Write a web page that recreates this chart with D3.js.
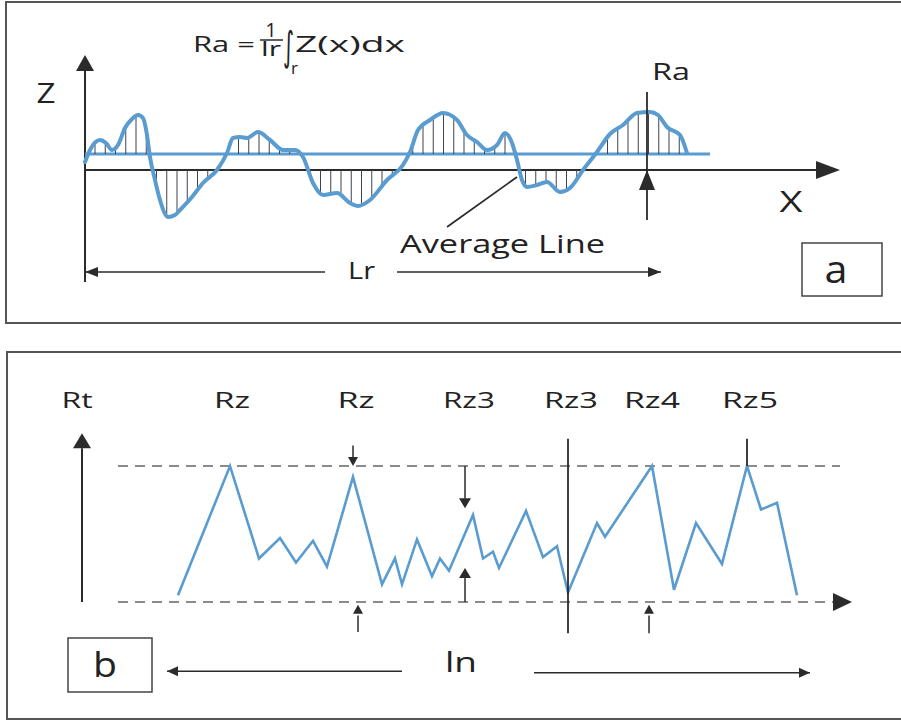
<!DOCTYPE html>
<html>
<head>
<meta charset="utf-8">
<script src="https://cdn.jsdelivr.net/npm/d3@7"></script>
<style>
  body { margin: 0; background: #fff; }
  svg { display: block; }
  text { font-family: "Open Sans", sans-serif; fill: #222; }
</style>
</head>
<body>
<svg id="chart" width="901" height="722"></svg>
<script>
// Panel a: surface profile (distance along, height above the X axis)
const profileAX = [0, 5, 15, 21, 27, 33, 40, 47, 53, 58, 62, 65, 70, 75, 83, 90, 95, 107, 118, 132, 142, 148, 155, 162, 173, 185, 198, 210, 218, 228, 238, 252, 265, 273, 285, 302, 318, 325, 333, 345, 358, 372, 382, 392, 402, 412, 420, 427, 432, 437, 442, 452, 462, 475, 485, 498, 512, 525, 538, 552, 565, 573, 582, 595, 602];
const profileAZ = [8, 20, 30, 27, 20, 25, 42, 51, 55, 52, 35, 13, -10, -30, -47, -45, -40, -27, -13, 0, 17, 32, 33, 32, 38, 30, 20, 20, 13, -13, -25, -23, -33, -36, -30, -10, 5, 18, 40, 50, 57, 50, 35, 28, 20, 25, 37, 27, 10, -10, -17, -15, -12, -22, -18, 0, 18, 36, 45, 57, 58, 55, 43, 35, 17];
const meanLineZ = 16;

// Panel b: peak/valley profile (distance along, height as share of Rt)
const profileBX = [96, 148, 177, 198, 214, 231, 245, 271, 300, 313, 320, 335, 350, 358, 367, 391, 401, 411, 417, 444, 461, 475, 486, 515, 523, 570, 592, 614, 640, 665, 679, 695, 715];
const profileBH = [0.05, 1.0, 0.32, 0.47, 0.29, 0.45, 0.26, 0.92, 0.13, 0.32, 0.13, 0.46, 0.19, 0.32, 0.23, 0.64, 0.32, 0.37, 0.25, 0.67, 0.33, 0.41, 0.07, 0.58, 0.48, 1.0, 0.09, 0.58, 0.28, 1.0, 0.68, 0.73, 0.05];
const peakLabels = ["Rt", "Rz", "Rz", "Rz3", "Rz3", "Rz4", "Rz5"];

const blue = "#5a9cd0";
const ink = "#2b2b2b";
const svg = d3.select("#chart");

// Scales
const xA = d3.scaleLinear().domain([0, 760]).range([85, 845]);
const zA = d3.scaleLinear().domain([-50, 120]).range([220, 50]);
const xB = d3.scaleLinear().domain([0, 760]).range([82, 842]);
const hB = d3.scaleLinear().domain([0, 1]).range([602, 466]);

// Helpers
function seg(g, x1, y1, x2, y2, w = 1.5, color = ink) {
    return g.append("line")
        .attr("x1", x1).attr("y1", y1).attr("x2", x2).attr("y2", y2)
        .attr("stroke", color).attr("stroke-width", w);
}
function head(g, x, y, dir, len, half) {
    const pts = {
        up: [[x, y], [x - half, y + len], [x + half, y + len]],
        down: [[x, y], [x - half, y - len], [x + half, y - len]],
        left: [[x, y], [x + len, y - half], [x + len, y + half]],
        right: [[x, y], [x - len, y - half], [x - len, y + half]],
    }[dir];
    g.append("polygon").attr("points", pts.map(p => p.join(",")).join(" ")).attr("fill", ink);
}
function label(g, txt, x, y, size, width, anchor = "start") {
    const t = g.append("text").attr("x", x).attr("y", y)
        .attr("font-size", size).attr("text-anchor", anchor).text(txt);
    if (width) t.attr("textLength", width).attr("lengthAdjust", "spacingAndGlyphs");
    return t;
}

// Panel frames
svg.append("rect").attr("x", 6).attr("y", 2).attr("width", 910).attr("height", 321)
    .attr("fill", "none").attr("stroke", "#555").attr("stroke-width", 2);
svg.append("rect").attr("x", 7).attr("y", 352).attr("width", 910).attr("height", 367)
    .attr("fill", "none").attr("stroke", "#555").attr("stroke-width", 2);

// ---------- Panel a ----------
const ga = svg.append("g");

// formula
label(ga, "Ra =", 193, 52, 22, 62);
label(ga, "1", 271, 37, 20, null, "middle");
seg(ga, 260, 40, 283, 40, 1.5);
label(ga, "lr", 271, 56, 20, 20, "middle");
label(ga, "\u222B", 283, 60, 40, 11).style("font-family", "DejaVu Sans");
label(ga, "r", 291, 74, 17);
label(ga, "Z(x)dx", 295, 52, 22, 110);

// axes
seg(ga, xA(0), zA(-112), xA(0), zA(100), 2);
head(ga, xA(0), zA(115), "up", 16, 9);
seg(ga, xA(0), zA(0), xA(732), zA(0), 2);
head(ga, xA(755), zA(0), "right", 24, 9);
label(ga, "Z", 46, 103, 27, 19, "middle");
label(ga, "X", 791, 212, 29, 23, "middle");

// mean line
seg(ga, xA(0), zA(meanLineZ), xA(625), zA(meanLineZ), 3, blue);

// profile
const lineA = d3.line().x((d, i) => xA(profileAX[i])).y(d => zA(d)).curve(d3.curveMonotoneX);
const pathA = ga.append("path").datum(profileAZ)
    .attr("d", lineA).attr("fill", "none");

// sample curve for hatching
const node = pathA.node();
const total = node.getTotalLength();
const samples = d3.range(0, total, 0.5).map(l => node.getPointAtLength(l));
const bis = d3.bisector(p => p.x).left;
const yAt = x => samples[Math.min(samples.length - 1, bis(samples, x))].y;

const hatchX = d3.range(0, 60).map(k => xA(10) + k * 10.25);
const yMean = zA(meanLineZ), yAxis = zA(0);
hatchX.forEach(x => {
    if (x > xA(602)) return;
    const y = yAt(x);
    if (y < yMean - 3) seg(ga, x, yMean, x, y, 1, "#3d4350");
    else if (y > yAxis + 3) seg(ga, x, yAxis, x, y, 1, "#3d4350");
});
pathA.raise().attr("stroke", blue).attr("stroke-width", 4)
    .attr("stroke-linejoin", "round").attr("stroke-linecap", "round");

// Ra marker
seg(ga, xA(562), zA(78), xA(562), zA(-50), 1.8);
head(ga, xA(562), zA(0), "up", 20, 8);
label(ga, "Ra", 652, 80, 23, 38);

// average line pointer
seg(ga, xA(432), zA(-7), xA(362), zA(-57), 1.8);
label(ga, "Average Line", 400, 253, 26, 205);

// Lr
seg(ga, xA(0), zA(-102), xA(240), zA(-102), 1.5);
head(ga, xA(0), zA(-102), "left", 13, 5);
seg(ga, xA(312), zA(-102), xA(576), zA(-102), 1.5);
head(ga, xA(576), zA(-102), "right", 13, 5);
label(ga, "Lr", 348, 279, 24, 27);

// a box
ga.append("rect").attr("x", 802).attr("y", 243).attr("width", 80).attr("height", 53)
    .attr("fill", "none").attr("stroke", "#444").attr("stroke-width", 1.5);
label(ga, "a", 836, 283, 38, 23, "middle");

// ---------- Panel b ----------
const gb = svg.append("g");

// labels above peaks
const labelX = [-5, 150, 274, 387, 489, 570, 668];
const labelW = [31, 36, 37, 52, 54, 56, 56];
peakLabels.forEach((t, i) => label(gb, t, xB(labelX[i]), 408, 22, labelW[i], "middle"));

// Rt axis
seg(gb, xB(0), hB(0), xB(0), hB(1.13), 2);
head(gb, xB(0), hB(1.24), "up", 15, 9);

// reference dashed lines
seg(gb, xB(36), hB(1), xB(758), hB(1), 1.5, "#666").attr("stroke-dasharray", "10 7");
seg(gb, xB(36), hB(0), xB(752), hB(0), 1.5, "#666").attr("stroke-dasharray", "10 7");
head(gb, xB(770), hB(0), "right", 19, 9);

// profile
const lineB = d3.line().x((d, i) => xB(profileBX[i])).y(d => hB(d));
gb.append("path").datum(profileBH).attr("d", lineB).attr("fill", "none")
    .attr("stroke", blue).attr("stroke-width", 2.6).attr("stroke-linejoin", "miter");

// Rz arrows
seg(gb, xB(271), hB(1.15), xB(271), hB(1.05), 1.5);
head(gb, xB(271), hB(1), "down", 9, 5);
seg(gb, xB(276), hB(-0.1), xB(276), hB(-0.22), 1.5);
head(gb, xB(276), hB(-0.02), "up", 9, 5);

// Rz3 arrows
seg(gb, xB(383), hB(1), xB(383), hB(0.76), 1.5);
head(gb, xB(383), hB(0.69), "down", 10, 6);
seg(gb, xB(383), hB(0), xB(383), hB(0.2), 1.5);
head(gb, xB(383), hB(0.25), "up", 10, 6);

// Rz3 vertical, Rz4 arrow, Rz5 tick
seg(gb, xB(486), hB(1.2), xB(486), hB(-0.23), 1.8);
seg(gb, xB(567), hB(-0.1), xB(567), hB(-0.23), 1.5);
head(gb, xB(567), hB(-0.02), "up", 9, 5);
seg(gb, xB(665), hB(1.2), xB(665), hB(1), 1.8);

// ln
seg(gb, xB(85), hB(-0.51), xB(320), hB(-0.51), 1.5);
head(gb, xB(85), hB(-0.51), "left", 11, 5);
seg(gb, xB(452), hB(-0.52), xB(728), hB(-0.52), 1.5);
head(gb, xB(728), hB(-0.52), "right", 11, 5);
label(gb, "ln", 461, 672, 28, 32, "middle");

// b box
gb.append("rect").attr("x", 68).attr("y", 638).attr("width", 84).attr("height", 54)
    .attr("fill", "none").attr("stroke", "#444").attr("stroke-width", 1.5);
label(gb, "b", 105, 677, 34, 24, "middle");
</script>
</body>
</html>
